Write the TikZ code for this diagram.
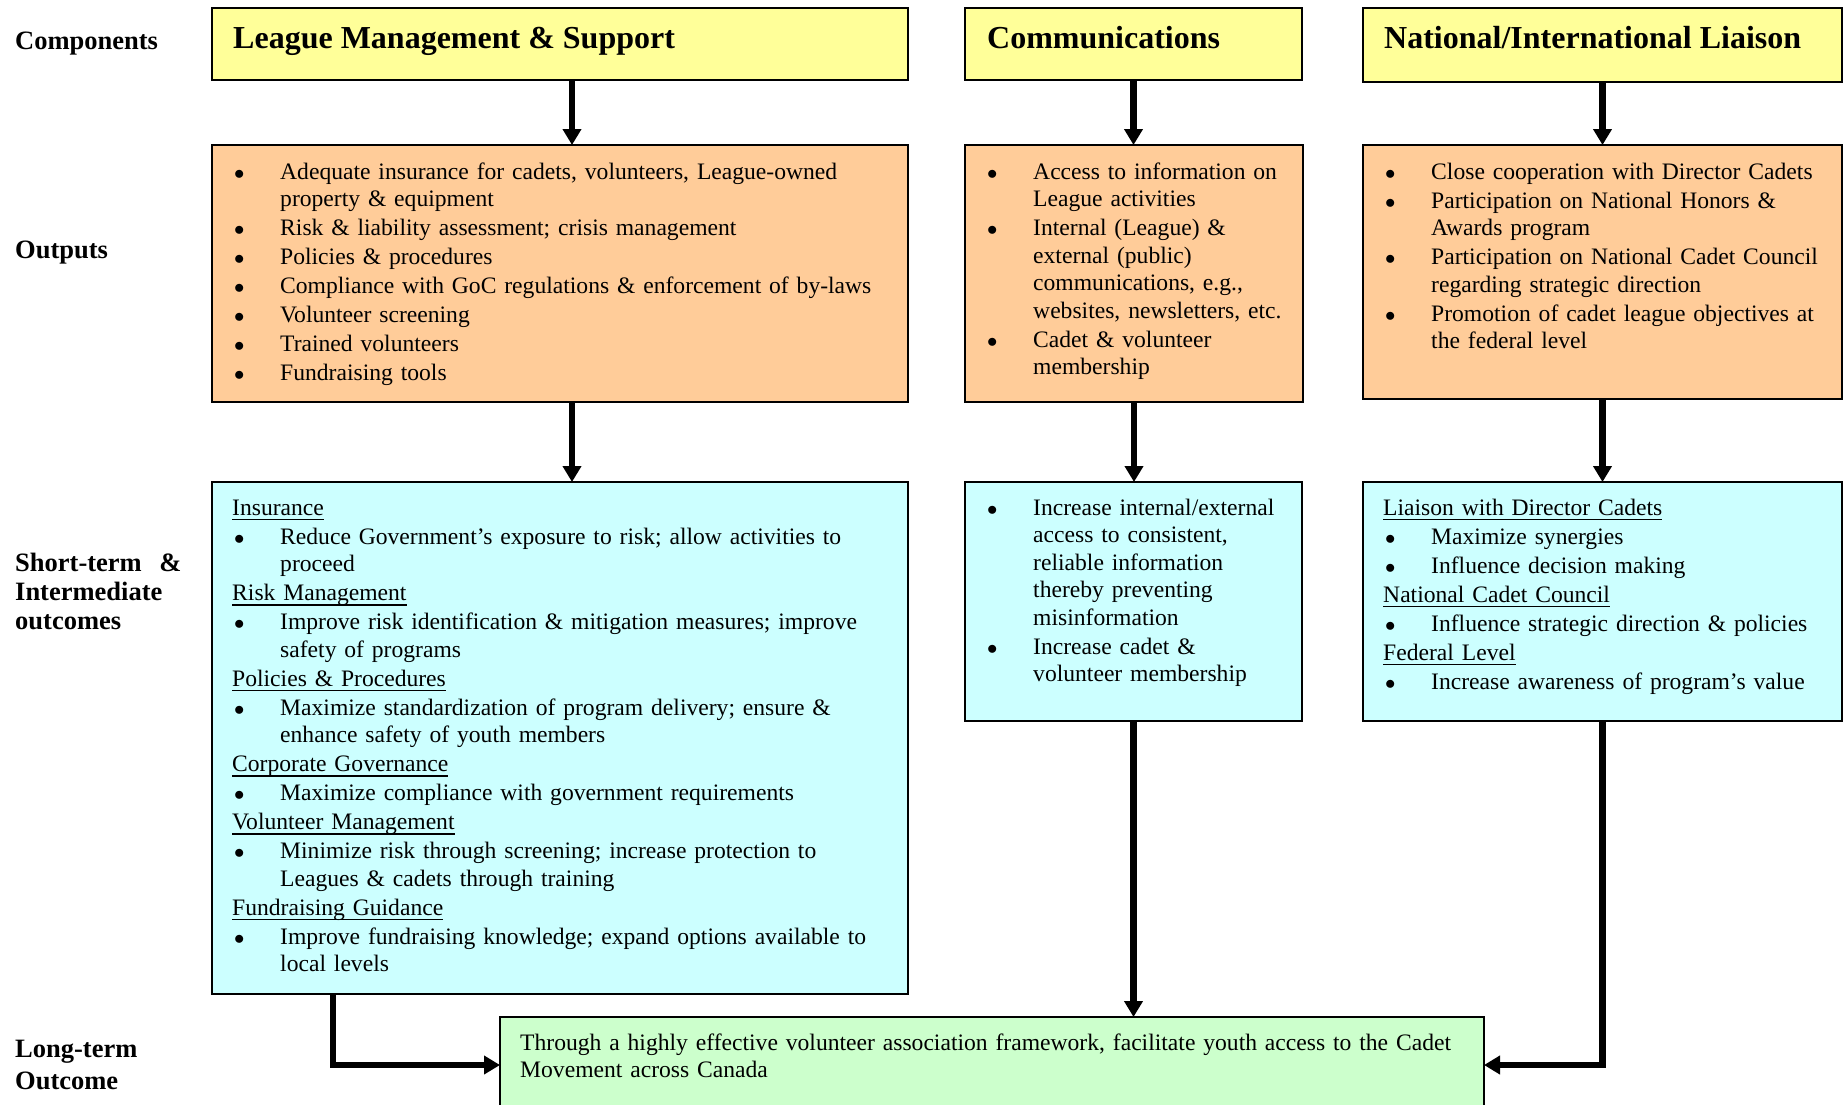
\documentclass[tikz,border=0pt]{standalone}
\usepackage{fontspec}
\usepackage{graphicx}
\setmainfont{Liberation Serif}
\usetikzlibrary{arrows.meta,calc}
\definecolor{bxyellow}{HTML}{FFFF99}
\definecolor{bxorange}{HTML}{FFCC99}
\definecolor{bxcyan}{HTML}{CCFFFF}
\definecolor{bxgreen}{HTML}{CCFFCC}
\newcommand\tstr{\rule{0pt}{20pt}}
\newcommand\ulh[1]{\setbox0\hbox{#1}\rlap{\rule[-5pt]{\wd0}{1.4pt}}\box0}
\newcommand\bul{{\fontsize{20}{20}\selectfont$\bullet$}}
\newcommand\bitem[1]{\hangindent=48pt\hangafter=1\noindent\tstr\makebox[48pt][l]{\hspace{2pt}\bul}#1\par}
\newcommand\hd[1]{\noindent\tstr\ulh{#1}\par}
\tikzset{
  box/.style={draw, line width=2.2pt, anchor=north west, inner sep=0pt, outer sep=0pt},
  hdr/.style={anchor=base west, inner sep=0pt, font=\bfseries\fontsize{32}{36}\selectfont},
  lbl/.style={anchor=north west, inner sep=0pt, align=left, text width=170pt, font=\bfseries\fontsize{26.5}{29}\selectfont},
  txt/.style={anchor=north west, inner sep=0pt, align=left, font=\fontsize{23.6}{27.5}\selectfont,
    execute at begin node={\setlength\parskip{1.5pt}\setlength\parindent{0pt}}},
  arr/.style={line width=6.5pt, -{Triangle[length=16pt,width=18pt]}},
}
\begin{document}
\begin{tikzpicture}[x=1pt,y=-1pt]
\useasboundingbox (0,0) rectangle (1844,1104);

% left labels
\node[lbl] (lc) at (15,29) {\tstr Components};
\node[lbl] (lo) at (15,238) {\tstr Outputs};
\node[lbl] (ls) at (15,551) {\tstr Short-term\ \ \&\newline Intermediate\newline outcomes};
\node[lbl, font=\bfseries\fontsize{26.5}{32}\selectfont] (ll) at (15,1037) {\tstr Long-term\newline Outcome};

% component boxes
\node[box, fill=bxyellow, minimum width=696pt, minimum height=72pt] (lmY) at (212,8) {};
\node[box, fill=bxyellow, minimum width=337pt, minimum height=72pt] (cmY) at (965,8) {};
\node[box, fill=bxyellow, minimum width=479pt, minimum height=74pt] (nlY) at (1363,8) {};
\node[hdr] (lmYt) at ([shift={(21,40)}]lmY.north west) {League Management \& Support};
\node[hdr] (cmYt) at ([shift={(22,40)}]cmY.north west) {Communications};
\node[hdr] (nlYt) at ([shift={(21,40)}]nlY.north west) {National/International Liaison};

% output boxes
\node[box, fill=bxorange, minimum width=696pt, minimum height=257pt] (lmO) at (212,145) {};
\node[box, fill=bxorange, minimum width=338pt, minimum height=257pt] (cmO) at (965,145) {};
\node[box, fill=bxorange, minimum width=479pt, minimum height=254pt] (nlO) at (1363,145) {};

\node[txt, text width=680pt] (lmOt) at ([shift={(20,14)}]lmO.north west) {%
\bitem{Adequate insurance for cadets, volunteers, League-owned\newline property \& equipment}
\bitem{Risk \& liability assessment; crisis management}
\bitem{Policies \& procedures}
\bitem{Compliance with GoC regulations \& enforcement of by-laws}
\bitem{Volunteer screening}
\bitem{Trained volunteers}
\bitem{Fundraising tools}};

\node[txt, text width=380pt] (cmOt) at ([shift={(20,14)}]cmO.north west) {%
\bitem{Access to information on\newline League activities}
\bitem{Internal (League) \&\newline external (public)\newline communications, e.g.,\newline websites, newsletters, etc.}
\bitem{Cadet \& volunteer\newline membership}};

\node[txt, text width=480pt] (nlOt) at ([shift={(20,14)}]nlO.north west) {%
\bitem{Close cooperation with Director Cadets}
\bitem{Participation on National Honors \&\newline Awards program}
\bitem{Participation on National Cadet Council\newline regarding strategic direction}
\bitem{Promotion of cadet league objectives at\newline the federal level}};

% outcome boxes
\node[box, fill=bxcyan, minimum width=696pt, minimum height=512pt] (lmC) at (212,482) {};
\node[box, fill=bxcyan, minimum width=337pt, minimum height=239pt] (cmC) at (965,482) {};
\node[box, fill=bxcyan, minimum width=479pt, minimum height=239pt] (nlC) at (1363,482) {};

\node[txt, text width=680pt] (lmCt) at ([shift={(20,13)}]lmC.north west) {%
\hd{Insurance}
\bitem{Reduce Government’s exposure to risk; allow activities to\newline proceed}
\hd{Risk Management}
\bitem{Improve risk identification \& mitigation measures; improve\newline safety of programs}
\hd{Policies \& Procedures}
\bitem{Maximize standardization of program delivery; ensure \&\newline enhance safety of youth members}
\hd{Corporate Governance}
\bitem{Maximize compliance with government requirements}
\hd{Volunteer Management}
\bitem{Minimize risk through screening; increase protection to\newline Leagues \& cadets through training}
\hd{Fundraising Guidance}
\bitem{Improve fundraising knowledge; expand options available to\newline local levels}};

\node[txt, text width=380pt] (cmCt) at ([shift={(20,13)}]cmC.north west) {%
\bitem{Increase internal/external\newline access to consistent,\newline reliable information\newline thereby preventing\newline misinformation}
\bitem{Increase cadet \&\newline volunteer membership}};

\node[txt, text width=480pt] (nlCt) at ([shift={(20,13)}]nlC.north west) {%
\hd{Liaison with Director Cadets}
\bitem{Maximize synergies}
\bitem{Influence decision making}
\hd{National Cadet Council}
\bitem{Influence strategic direction \& policies}
\hd{Federal Level}
\bitem{Increase awareness of program’s value}};

% long-term outcome
\node[box, fill=bxgreen, minimum width=984pt, minimum height=96pt] (gr) at (500,1017) {};
\node[txt, text width=960pt] (grt) at ([shift={(20,13)}]gr.north west) {%
\noindent\tstr Through a highly effective volunteer association framework, facilitate youth access to the Cadet\newline Movement across Canada\par};

% connectors
\draw[arr] ([xshift=12pt]lmY.south) -- ([xshift=12pt]lmO.north);
\draw[arr] (cmY.south) -- (cmY.south |- cmO.north);
\draw[arr] (nlY.south) -- (nlO.north);
\draw[arr] ([xshift=12pt]lmO.south) -- ([xshift=12pt]lmC.north);
\draw[arr] (cmO.south) -- (cmO.south |- cmC.north);
\draw[arr] (nlO.south) -- (nlC.north);
\draw[arr] ([xshift=121pt]lmC.south west) |- (gr.west);
\draw[arr] (cmC.south) -- (cmC.south |- gr.north);
\draw[arr] (nlC.south) |- (gr.east);
\end{tikzpicture}
\end{document}
